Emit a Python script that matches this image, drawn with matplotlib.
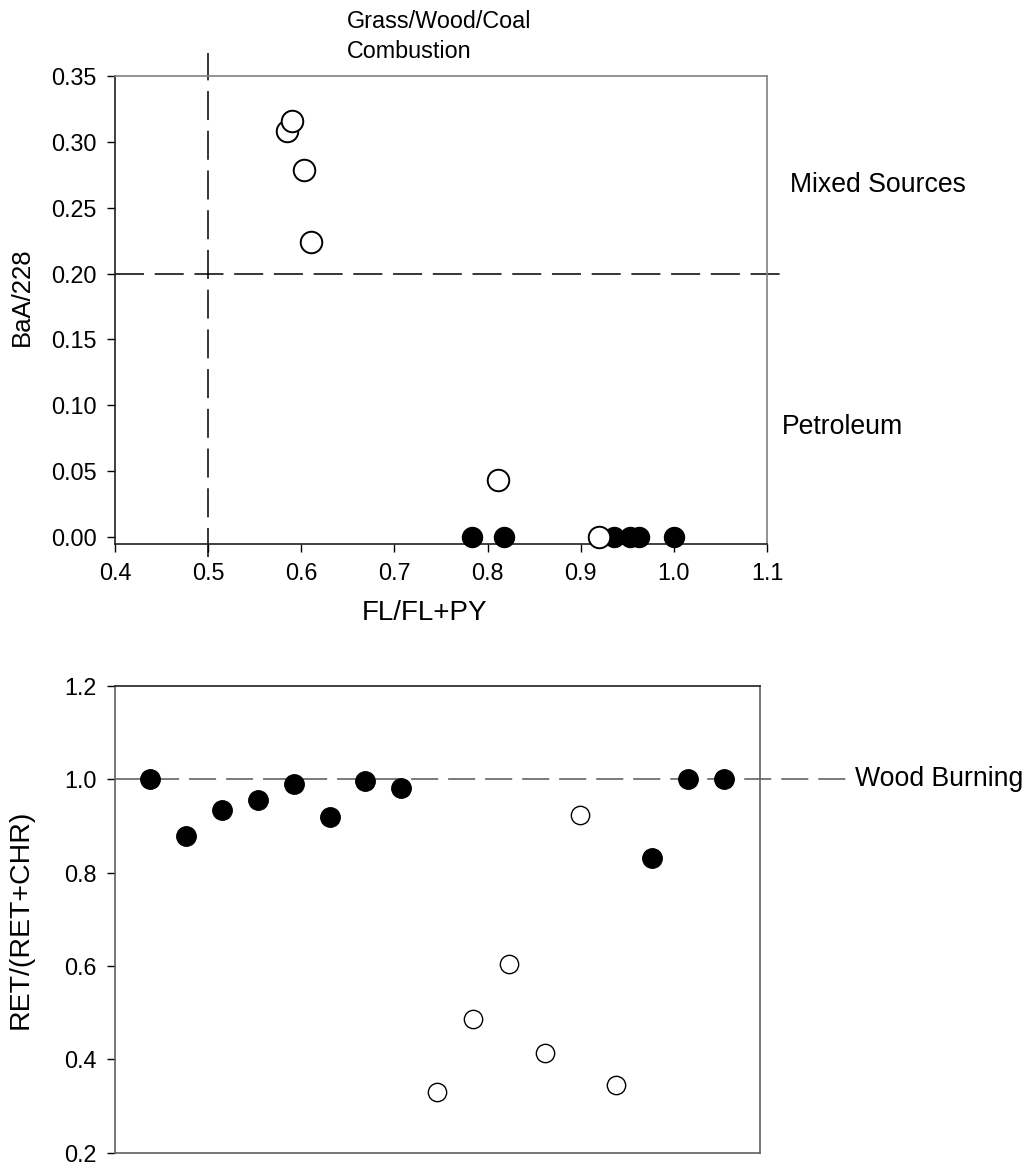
import matplotlib
matplotlib.use("Agg")
import matplotlib.pyplot as plt
from matplotlib.ticker import FormatStrFormatter

plt.rcParams['font.family'] = ['Liberation Sans', 'DejaVu Sans']

# ---- Top panel data (FL/FL+PY vs BaA/228) ----
top_filled_x = [0.7835, 0.8175, 0.9354, 0.9533, 0.963, 1.0]
top_filled_y = [0.0, 0.0, 0.0, 0.0, 0.0, 0.0]
top_open_x = [0.585, 0.590, 0.6034, 0.610, 0.8115, 0.920]
top_open_y = [0.308, 0.316, 0.279, 0.224, 0.043, 0.0]
top_xticks = [0.4, 0.5, 0.6, 0.7, 0.8, 0.9, 1.0, 1.1]
top_yticks = [0.00, 0.05, 0.10, 0.15, 0.20, 0.25, 0.30, 0.35]

# ---- Bottom panel data (RET/(RET+CHR)) ----
bot_index = list(range(1, 18))
bot_values = [1.000, 0.879, 0.934, 0.956, 0.990, 0.919, 0.996, 0.981,
              0.331, 0.487, 0.604, 0.414, 0.924, 0.345, 0.831, 1.000, 1.000]
bot_filled = [True, True, True, True, True, True, True, True,
              False, False, False, False, False, False, True, True, True]
bot_yticks = [0.2, 0.4, 0.6, 0.8, 1.0, 1.2]

W, H = 1028, 1165
fig = plt.figure(figsize=(W / 100, H / 100), dpi=100)

def fx(px):
    return px / W

def fy(py):
    return 1 - py / H

gray = '#808080'
tick_fs = 16.8

# ---------------- Top axes ----------------
ax1 = fig.add_axes([fx(115), fy(544), fx(767) - fx(115), fy(76) - fy(544)])
ax1.set_xlim(0.4, 1.1)
ax1.set_ylim(-0.0053, 0.35)
ax1.set_xticks(top_xticks)
ax1.set_yticks(top_yticks)
ax1.xaxis.set_major_formatter(FormatStrFormatter('%.1f'))
ax1.yaxis.set_major_formatter(FormatStrFormatter('%.2f'))
ax1.tick_params(direction='out', length=6, width=1, labelsize=tick_fs, pad=7,
                top=False, right=False)
for s in ['top', 'right']:
    ax1.spines[s].set_color(gray)
for s in ['left', 'bottom']:
    ax1.spines[s].set_color('#202020')
for s in ax1.spines.values():
    s.set_linewidth(1.2)

dash_top = (0, (19, 7))
ax1.plot([0.4, 1.1215], [0.20, 0.20], color='black', lw=1.1, linestyle=dash_top,
         clip_on=False, zorder=1)
ax1.plot([0.5, 0.5], [-0.015, 0.3675], color='black', lw=1.1, linestyle=dash_top,
         clip_on=False, zorder=1)

ax1.scatter(top_filled_x, top_filled_y, s=14.4 ** 2, facecolor='black',
            edgecolor='black', linewidths=1.0, clip_on=False, zorder=3)
ax1.scatter(top_open_x, top_open_y, s=15.5 ** 2, facecolor='white',
            edgecolor='black', linewidths=1.4, clip_on=False, zorder=4)

ax1.set_xlabel('FL/FL+PY', fontsize=20)
ax1.xaxis.set_label_coords((425 - 115) / 652, -(600 - 544) / 468)
ax1.set_ylabel('BaA/228', fontsize=18.5)
ax1.yaxis.set_label_coords((34 - 115) / 652, (544 - 297) / 468)

fig.text(fx(347), fy(10), 'Grass/Wood/Coal\nCombustion', fontsize=16.8,
         ha='left', va='top', linespacing=1.4)
fig.text(fx(790), fy(185), 'Mixed Sources', fontsize=19.2, ha='left', va='center')
fig.text(fx(782), fy(427), 'Petroleum', fontsize=19.2, ha='left', va='center')

# ---------------- Bottom axes ----------------
ax2 = fig.add_axes([fx(114.5), fy(1152.7), fx(759.7) - fx(114.5), fy(686) - fy(1152.7)])
ax2.set_xlim(0, 18)
ax2.set_ylim(0.2, 1.2)
ax2.set_xticks([])
ax2.set_yticks(bot_yticks)
ax2.yaxis.set_major_formatter(FormatStrFormatter('%.1f'))
ax2.tick_params(direction='out', length=6, width=1, labelsize=tick_fs, pad=7)
for s in ['left', 'right', 'bottom']:
    ax2.spines[s].set_color('#606060')
ax2.spines['top'].set_color('#202020')
for s in ax2.spines.values():
    s.set_linewidth(1.2)

ax2.plot([0, 20.4], [1.0, 1.0], color='#707070', lw=1.3,
         linestyle=(0, (15, 5.5)), clip_on=False, zorder=1)

fx_idx = [i for i, f in zip(bot_index, bot_filled) if f]
fy_val = [v for v, f in zip(bot_values, bot_filled) if f]
ox_idx = [i for i, f in zip(bot_index, bot_filled) if not f]
oy_val = [v for v, f in zip(bot_values, bot_filled) if not f]
ax2.scatter(fx_idx, fy_val, s=14.0 ** 2, facecolor='black', edgecolor='black',
            linewidths=1.0, zorder=3)
ax2.scatter(ox_idx, oy_val, s=13.2 ** 2, facecolor='white', edgecolor='black',
            linewidths=1.0, zorder=3)

ax2.set_ylabel('RET/(RET+CHR)', fontsize=20.5)
ax2.yaxis.set_label_coords((34 - 114.5) / 645.2, 0.5)

fig.text(fx(855), fy(779), 'Wood Burning', fontsize=19.2, ha='left', va='center')

fig.savefig('out.png', dpi=100)
